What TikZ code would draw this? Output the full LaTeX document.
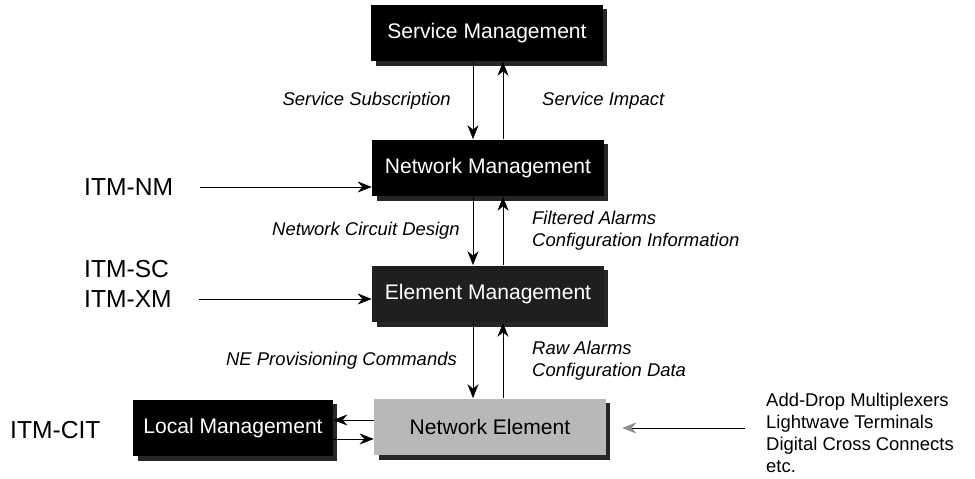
\documentclass[tikz,border=0pt]{standalone}
\usepackage{fontspec}
\setmainfont{Liberation Sans}
\usetikzlibrary{arrows.meta,shadows}
\tikzset{
  mgmtbox/.style={fill=black, text=white, minimum width=4.64cm, minimum height=1.14cm,
    inner sep=2pt, font=\fontsize{12}{14}\selectfont,
    drop shadow={shadow xshift=0.09cm, shadow yshift=-0.09cm, fill=black!85, opacity=1}},
  nebox/.style={mgmtbox, fill=black!28, text=black},
  flowlabel/.style={font=\fontsize{10.5}{12.5}\selectfont\itshape, align=left},
  itmlabel/.style={font=\fontsize{14}{16}\selectfont, anchor=west},
  listlabel/.style={font=\fontsize{10.5}{12.6}\selectfont, align=left, anchor=west},
}
\begin{document}
\begin{tikzpicture}[x=0.02cm, y=-0.02cm, >={Stealth[length=2.8mm,width=2.2mm]}]
            \useasboundingbox (0,0) rectangle (975,479);
            % management layers
            \node[mgmtbox] (sm) at (487,33) {Service Management};
            \node[mgmtbox] (nm) at (488,168) {Network Management};
            \node[mgmtbox, fill=black!88] (em) at (488,294) {Element Management};
            \node[nebox] (ne) at (490,427) {Network Element};
            \node[mgmtbox, minimum width=4.0cm] (lm) at (233,428) {Local Management};
            \coordinate (down) at (473,0);
            \coordinate (up) at (503,0);
            % flows between layers
            \draw[->] (sm.south -| down) -- node[flowlabel, left=0.32cm] {Service Subscription} (nm.north -| down);
            \draw[->] (nm.north -| up) -- node[flowlabel, right=0.66cm] {Service Impact} (sm.south -| up);
            \draw[->] (nm.south -| down) -- node[flowlabel, left=0.14cm] {Network Circuit Design} (em.north -| down);
            \draw[->] (em.north -| up) -- node[flowlabel, right=0.46cm] {Filtered Alarms\\Configuration Information} (nm.south -| up);
            \draw[->] (em.south -| down) -- node[flowlabel, left=0.2cm] {NE Provisioning Commands} (ne.north -| down);
            \draw[->] (ne.north -| up) -- node[flowlabel, right=0.46cm] {Raw Alarms\\Configuration Data} (em.south -| up);
            % local management
            \draw[->] ([yshift=0.14cm]ne.west) -- ([yshift=0.14cm]ne.west -| lm.east);
            \draw[->] ([yshift=-0.22cm]lm.east) -- ([yshift=-0.22cm]lm.east -| ne.west);
            % products
            \node[itmlabel] (itmnm) at (78,187) {ITM-NM};
            \node[itmlabel] (itmsc) at (78,269) {ITM-SC};
            \node[itmlabel] (itmxm) at (78,299) {ITM-XM};
            \node[itmlabel] (itmcit) at (4,430) {ITM-CIT};
            \draw[->] ([xshift=0.42cm]itmnm.east) -- (nm.west |- itmnm.east);
            \draw[->] ([xshift=0.42cm]itmxm.east) -- (em.west |- itmxm.east);
            % network element types
            \node[listlabel] (netypes) at (760,433) {Add-Drop Multiplexers\\Lightwave Terminals\\Digital Cross Connects\\etc.};
            \coordinate (typesin) at (745,428);
            \draw[-{Stealth[length=2.8mm,width=2.2mm,black!45]}] (typesin) -- ([xshift=0.32cm]ne.east |- typesin);
        \end{tikzpicture}
\end{document}
